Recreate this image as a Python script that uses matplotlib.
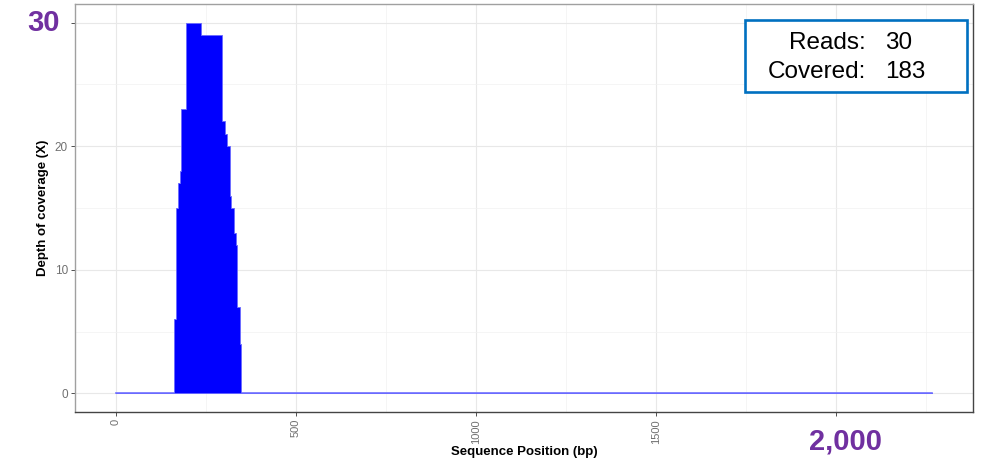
import matplotlib
matplotlib.use("Agg")
import matplotlib.pyplot as plt
from matplotlib.patches import Rectangle

plt.rcParams["font.family"] = ["Liberation Sans", "DejaVu Sans"]

# coverage profile (step edges in bp, depth after each edge)
positions = [0, 161, 167, 172, 178, 182, 194, 236, 295, 303, 310, 317, 321, 328, 333, 337, 344, 349, 2267]
depths = [0, 6, 15, 17, 18, 23, 30, 29, 22, 21, 20, 16, 15, 13, 12, 7, 4, 0, 0]

x_ticks = [0, 500, 1000, 1500, 2000]
x_tick_labels = ["0", "500", "1000", "1500", ""]
x_minor = [250, 750, 1250, 1750, 2250]
y_ticks = [0, 10, 20, 30]
y_tick_labels = ["0", "10", "20", ""]
y_minor = [5, 15, 25]

n_reads = 30
n_covered = 183

W, H = 983, 462
fig = plt.figure(figsize=(W / 100, H / 100), dpi=100)
ax = fig.add_axes([75 / W, 1 - 412 / H, (973 - 75) / W, (412 - 4) / H])

ax.fill_between(positions, depths, step="post", facecolor="#0000ff",
                edgecolor="#6a6aff", linewidth=0.6, zorder=3)
ax.plot([positions[0], positions[-1]], [0, 0], color="#7070ff", linewidth=1.2, zorder=2)

span = positions[-1] - positions[0]
ax.set_xlim(positions[0] - 0.05 * span, positions[-1] + 0.05 * span)
ymax = max(depths)
ax.set_ylim(-0.05 * ymax, ymax * 1.05)

ax.set_xticks(x_ticks)
ax.set_xticklabels(x_tick_labels, rotation=90, va="top", fontsize=8, color="#707070")
ax.set_xticks(x_minor, minor=True)
ax.set_yticks(y_ticks)
ax.set_yticklabels(y_tick_labels, fontsize=8.5, color="#707070")
ax.set_yticks(y_minor, minor=True)
ax.tick_params(which="major", length=3, width=0.6, color="#333333", pad=2)
ax.tick_params(which="minor", length=0)

ax.grid(which="major", color="#e8e8e8", linewidth=0.8, zorder=0)
ax.grid(which="minor", color="#f1f1f1", linewidth=0.5, zorder=0)
ax.set_axisbelow(True)

for side in ("left", "top"):
    ax.spines[side].set_color("#a0a0a0")
for side in ("right", "bottom"):
    ax.spines[side].set_color("#444444")
for s in ax.spines.values():
    s.set_linewidth(1.0)

ax.set_xlabel("Sequence Position (bp)", fontsize=9.5, fontweight="bold")
ax.set_ylabel("Depth of coverage (X)", fontsize=9.5, fontweight="bold")
ax.xaxis.set_label_coords(0.5, -(452 - 412) / (412 - 4), transform=ax.transAxes)
ax.xaxis.label.set_va("center")
ax.yaxis.set_label_coords((43 - 75) / (973 - 75), 0.5, transform=ax.transAxes)
ax.yaxis.label.set_va("center")

# overlay annotations
purple = "#7030a0"
fig.text(44 / W, 1 - 23 / H, "30", color=purple, fontsize=21, fontweight="bold",
         ha="center", va="center")
fig.text(846 / W, 1 - 441 / H, "2,000", color=purple, fontsize=21, fontweight="bold",
         ha="center", va="center")

box = Rectangle((745 / W, 1 - 92 / H), (967 - 745) / W, (92 - 20) / H,
                transform=fig.transFigure, facecolor="white", edgecolor="#0070c0",
                linewidth=1.9, zorder=5)
fig.patches.append(box)
fs = 17.5
fig.text(866 / W, 1 - 43 / H, "Reads:", fontsize=fs, ha="right", va="center", zorder=6)
fig.text(885 / W, 1 - 43 / H, str(n_reads), fontsize=fs, ha="left", va="center", zorder=6)
fig.text(866 / W, 1 - 72 / H, "Covered:", fontsize=fs, ha="right", va="center", zorder=6)
fig.text(885 / W, 1 - 72 / H, str(n_covered), fontsize=fs, ha="left", va="center", zorder=6)

fig.savefig("out.png", dpi=100)
